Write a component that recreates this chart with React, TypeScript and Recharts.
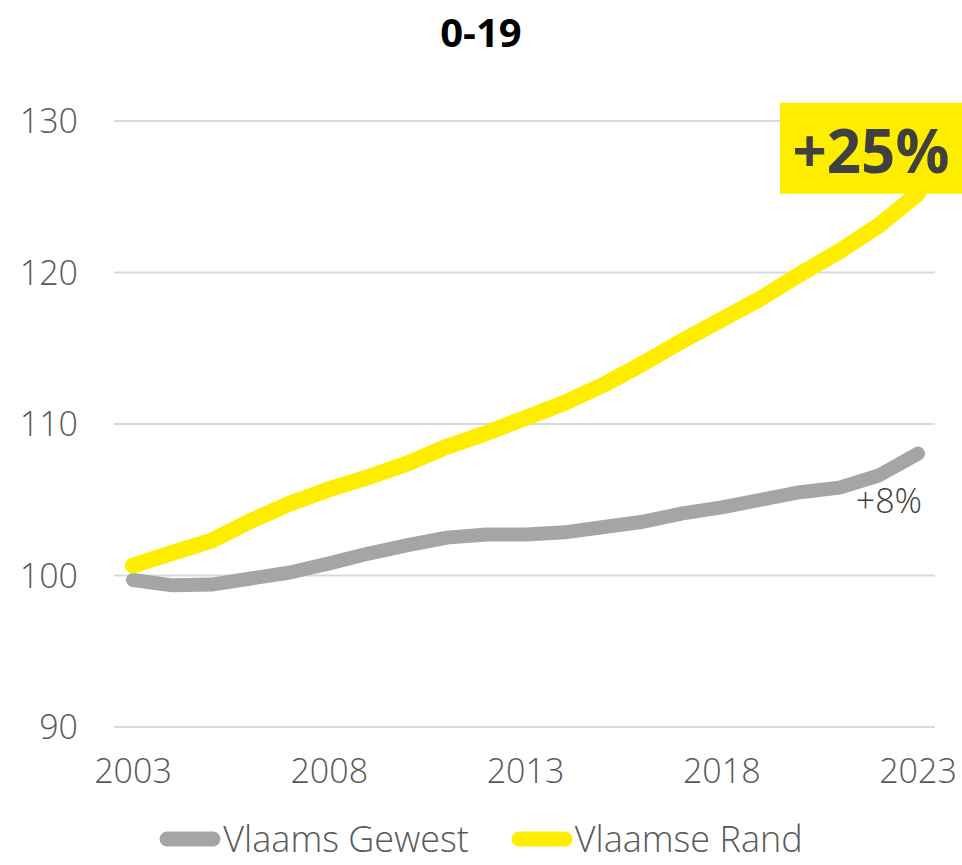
import { CartesianGrid, Line, LineChart, XAxis, YAxis } from "recharts";

const years = [
  2003, 2004, 2005, 2006, 2007, 2008, 2009, 2010, 2011, 2012, 2013, 2014, 2015,
  2016, 2017, 2018, 2019, 2020, 2021, 2022, 2023,
];

const vlaamsGewest = [
  99.7, 99.35, 99.4, 99.8, 100.2, 100.8, 101.45, 102.0, 102.5, 102.7, 102.7,
  102.85, 103.2, 103.55, 104.1, 104.5, 105.0, 105.5, 105.8, 106.6, 108.05,
];

const vlaamseRand = [
  100.66, 101.5, 102.3, 103.6, 104.75, 105.7, 106.5, 107.4, 108.5, 109.4,
  110.4, 111.4, 112.6, 114.0, 115.5, 116.9, 118.3, 119.9, 121.4, 123.1, 125.2,
];

const yTicks = [90, 100, 110, 120, 130];

const series = [
  { key: "gewest", name: "Vlaams Gewest", color: "#A5A5A5" },
  { key: "rand", name: "Vlaamse Rand", color: "#FFED00" },
];

const data = years.map((year, i) => ({
  year,
  gewest: vlaamsGewest[i],
  rand: vlaamseRand[i],
}));

const font = "'Open Sans', sans-serif";
const last = years.length - 1;

function RandLabel(props: any) {
  const { x, y, index } = props;
  if (index !== last) return null;
  return (
    <g>
      <rect x={x - 138} y={y - 91} width={200} height={91} fill="#FFED00" />
      <text
        x={x - 47}
        y={y - 21}
        textAnchor="middle"
        fontFamily={font}
        fontWeight={700}
        fontSize={60}
        fill="#404040"
      >
        +25%
      </text>
    </g>
  );
}

function GewestLabel(props: any) {
  const { x, y, index } = props;
  if (index !== last) return null;
  return (
    <text
      x={x + 4}
      y={y + 59}
      textAnchor="end"
      fontFamily={font}
      fontWeight={300}
      fontSize={34}
      fill="#404040"
    >
      +8%
    </text>
  );
}

export default function App() {
  return (
    <div
      style={{
        position: "absolute",
        left: 0,
        top: 0,
        width: 962,
        height: 865,
        background: "#fff",
        overflow: "hidden",
      }}
    >
      <div
        style={{
          position: "absolute",
          top: 4,
          width: 962,
          textAlign: "center",
          fontFamily: font,
          fontWeight: 700,
          fontSize: 40,
          color: "#000",
        }}
      >
        0-19
      </div>
      <LineChart
        width={962}
        height={865}
        data={data}
        margin={{ top: 121, right: 27, bottom: 98, left: 0 }}
      >
        <CartesianGrid stroke="#D9D9D9" strokeWidth={2} vertical={false} />
        <XAxis
          dataKey="year"
          interval={4}
          axisLine={false}
          tickLine={false}
          tickSize={0}
          tickMargin={32}
          height={40}
          padding={{ left: 19, right: 17 }}
          tick={{ fill: "#595959", fontSize: 34, fontWeight: 300, fontFamily: font }}
        />
        <YAxis
          domain={[90, 130]}
          ticks={yTicks}
          axisLine={false}
          tickLine={false}
          tickSize={0}
          tickMargin={36}
          width={114}
          tick={{ fill: "#595959", fontSize: 34, fontWeight: 300, fontFamily: font }}
        />
        <Line
          dataKey="gewest"
          name="Vlaams Gewest"
          stroke="#A5A5A5"
          strokeWidth={14}
          strokeLinecap="round"
          strokeLinejoin="round"
          dot={false}
          isAnimationActive={false}
          label={<GewestLabel />}
        />
        <Line
          dataKey="rand"
          name="Vlaamse Rand"
          stroke="#FFED00"
          strokeWidth={16}
          strokeLinecap="round"
          strokeLinejoin="round"
          dot={false}
          isAnimationActive={false}
          label={<RandLabel />}
        />
      </LineChart>
      <div
        style={{
          position: "absolute",
          top: 816,
          width: 962,
          display: "flex",
          justifyContent: "center",
          gap: 42,
          fontFamily: font,
          fontWeight: 300,
          fontSize: 36,
          lineHeight: "46px",
          color: "#595959",
        }}
      >
        {series.map((s) => (
          <div key={s.key} style={{ display: "flex", alignItems: "center" }}>
            <svg width={62} height={20} style={{ marginRight: 2 }}>
              <line
                x1={8}
                y1={10}
                x2={54}
                y2={10}
                stroke={s.color}
                strokeWidth={15}
                strokeLinecap="round"
              />
            </svg>
            <span>{s.name}</span>
          </div>
        ))}
      </div>
    </div>
  );
}
